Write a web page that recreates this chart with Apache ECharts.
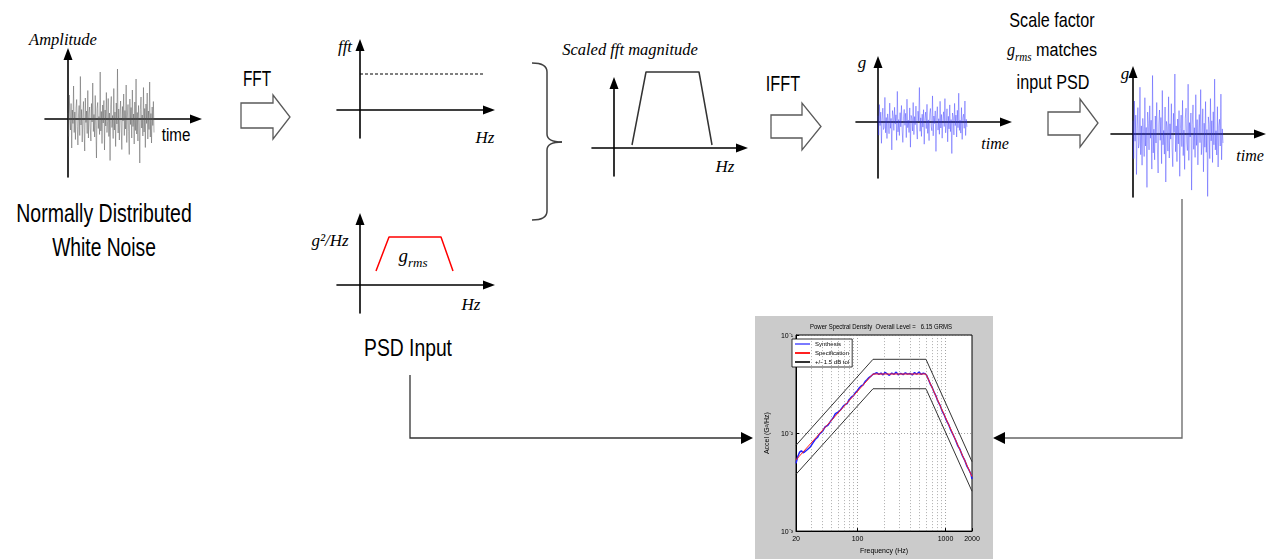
<!DOCTYPE html>
<html>
<head>
<meta charset="utf-8">
<title>Random vibration synthesis</title>
<script src="https://cdn.jsdelivr.net/npm/echarts@6/dist/echarts.min.js"></script>
<style>
  html, body { margin: 0; padding: 0; background: #fff; }
  #main { position: absolute; left: 0; top: 0; width: 1277px; height: 559px; }
  #psd { position: absolute; left: 755px; top: 316px; width: 238px; height: 243px; filter: blur(0.4px); }
</style>
</head>
<body>
<div id="main"></div>
<div id="psd"></div>
<script>
// ---------------- data ----------------
// normally distributed white noise (amplitude, arbitrary units)
const whiteNoise = [0.12,-0.35,0.48,0.05,-0.22,0.31,-0.58,0.18,-0.09,0.66,-0.27,0.14,-0.41,0.22,0.39,-0.15,-0.52,0.08,0.27,-0.33,
  0.85,-0.12,0.19,-0.46,0.03,0.35,-0.21,-0.64,0.42,-0.07,0.16,-0.29,0.57,-0.38,0.11,0.24,-0.18,-0.44,0.31,-0.06,
  0.72,-0.25,0.09,-0.36,0.47,-0.13,-0.78,0.21,0.33,-0.19,0.05,-0.31,0.94,-0.24,0.15,-0.49,0.28,-0.08,0.37,-0.62,
  0.18,-0.14,0.53,-0.27,-0.05,0.41,-0.35,0.12,-0.83,0.26,0.45,-0.17,0.07,-0.39,0.61,-0.22,0.14,-0.55,0.32,-0.1,
  1.0,-0.28,0.2,-0.42,0.09,0.36,-0.16,-0.61,0.25,-0.04,0.5,-0.33,0.17,-0.2,0.68,-0.47,0.06,0.29,-0.25,-0.71,
  0.4,-0.11,0.23,-0.38,0.58,-0.15,0.1,-0.5,0.34,-0.23,0.8,-0.3,0.13,-0.44,0.27,-0.06,-0.88,0.19,0.44,-0.18,
  0.08,-0.34,0.63,-0.26,0.21,-0.57,0.3,-0.09,0.52,-0.4,0.16,-0.21,0.74,-0.36,0.11,-0.48,0.24,-0.13,0.35,-0.27];

// flat FFT magnitude of the white noise
const fftLevel = [[0, 3.6], [12.5, 3.6]];

// PSD input shape (g^2/Hz) and scaled FFT magnitude shape
const psdInputShape = [[1.6, 1.4], [2.9, 4.8], [8.1, 4.8], [9.3, 1.4]];
const scaledFftShape = [[1.8, 0.3], [3.2, 7.6], [8.5, 7.6], [9.8, 0.3]];

// time history after IFFT (g)
const ifftNoise = [0.21,-0.44,0.58,-0.12,0.33,-0.71,0.09,0.46,-0.25,-0.18,0.82,-0.36,0.15,-0.55,0.27,0.04,-0.39,0.63,-0.21,0.12,
  -0.93,0.38,0.19,-0.28,0.49,-0.07,0.24,-0.61,1.02,-0.33,0.08,-0.45,0.31,-0.16,0.55,-0.26,-0.68,0.17,0.42,-0.11,
  0.29,-0.52,0.76,-0.19,0.06,-0.35,0.47,-0.84,0.22,0.13,-0.3,0.65,-0.42,0.18,-0.09,0.53,-0.24,-0.57,0.36,0.02,
  1.15,-0.31,0.14,-0.48,0.26,-0.17,0.41,-0.74,0.1,0.33,-0.22,0.59,-0.38,0.07,-0.62,0.28,0.45,-0.14,-0.29,0.87,
  -0.46,0.2,-0.05,0.37,-0.98,0.16,0.51,-0.27,0.11,-0.41,0.69,-0.2,0.25,-0.54,0.03,0.34,-0.15,0.78,-0.36,-0.1,
  0.44,-0.66,0.19,-0.23,0.57,-0.32,0.08,-1.05,0.3,0.17,-0.43,0.62,-0.12,0.23,-0.5,0.39,-0.19,0.96,-0.28,0.06,
  -0.37,0.48,-0.58,0.14,0.26,-0.21,0.7,-0.45,0.09,-0.16];

// time history after scaling to the input PSD (g)
const scaledNoise = [0.45,-0.82,1.1,-0.24,0.63,-1.35,0.18,0.88,-0.47,-0.31,1.56,-0.69,0.27,-1.04,0.52,0.09,-0.75,1.21,-0.4,0.22,
  -1.78,0.73,0.35,-0.53,0.94,-0.14,0.46,-1.17,1.95,-0.63,0.16,-0.86,0.6,-0.3,1.05,-0.5,-1.3,0.33,0.8,-0.21,
  0.55,-0.99,1.45,-0.36,0.12,-0.67,0.9,-1.6,0.42,0.25,-0.57,1.24,-0.8,0.34,-0.17,1.01,-0.46,-1.09,0.69,0.05,
  2.0,-0.59,0.27,-0.92,0.5,-0.33,0.78,-1.41,0.19,0.63,-0.42,1.12,-0.72,0.13,-1.18,0.53,0.86,-0.27,-0.55,1.66,
  -0.88,0.38,-0.1,0.7,-1.87,0.31,0.97,-0.51,0.21,-0.78,1.31,-0.38,0.48,-1.03,0.06,0.65,-0.29,1.48,-0.69,-0.19,
  0.84,-1.26,0.36,-0.44,1.08,-0.61,0.15,-2.08,0.57,0.32,-0.82,1.18,-0.23,0.44,-0.95,0.74,-0.36,1.83,-0.53,0.11,
  -0.7,0.91,-1.1,0.27,0.49,-0.4,1.33,-0.86,0.17,-0.3];

// PSD check plot: [frequency Hz, G^2/Hz]
const psdSpec = [[20, 0.00533], [150, 0.04], [600, 0.04], [2000, 0.0036]];
const psdTolUpper = [[20, 0.0075], [150, 0.0565], [600, 0.0565], [2000, 0.0051]];
const psdTolLower = [[20, 0.0038], [150, 0.0283], [600, 0.0283], [2000, 0.00255]];
const psdSynthesis = [[20,0.0049],[21,0.0058],[22,0.0064],[23,0.0066],[24,0.0063],[25,0.0064],[27,0.0068],[29,0.0072],
  [31,0.0079],[33,0.0086],[35,0.0090],[37,0.0098],[40,0.0104],[43,0.0116],[46,0.0120],[50,0.0134],[53,0.0143],
  [56,0.0158],[60,0.0163],[64,0.0172],[68,0.0185],[72,0.0196],[76,0.0199],[80,0.0218],[85,0.0232],[90,0.0241],
  [95,0.0259],[100,0.0272],[105,0.0290],[110,0.0302],[116,0.0310],[122,0.0335],[128,0.0349],[135,0.0368],
  [142,0.0380],[150,0.0398],[158,0.0405],[166,0.0412],[175,0.0396],[185,0.0408],[195,0.0392],[205,0.0415],
  [218,0.0401],[230,0.0388],[245,0.0409],[260,0.0397],[275,0.0418],[290,0.0393],[310,0.0406],[330,0.0395],
  [350,0.0412],[370,0.0399],[395,0.0405],[420,0.0392],[445,0.0414],[470,0.0398],[500,0.0420],[530,0.0396],
  [560,0.0409],[590,0.0401],[610,0.0388],[640,0.0352],[670,0.0318],[700,0.0296],[740,0.0262],[780,0.0238],
  [820,0.0210],[870,0.0191],[920,0.0166],[970,0.0152],[1030,0.0133],[1090,0.0121],[1150,0.0107],[1220,0.0096],
  [1300,0.0085],[1380,0.0074],[1460,0.0068],[1550,0.0059],[1650,0.0053],[1750,0.0046],[1850,0.0042],
  [1950,0.0038],[2000,0.0034]];
const psdGridFreqs = [30, 40, 50, 60, 70, 80, 90, 200, 300, 400, 500, 600, 700, 800, 900];
const psdYTickLabels = ['10\u207B\u00B3', '10\u207B\u00B2', '10\u207B\u00B9'];

// ---------------- layout of the sketch plots ----------------
// l/b: axis line starts, r/t: arrow tips, ox/oy: origin, kx/ky: pixels per data unit
const TIP = 6;
const sketchPlots = [
  { l: 45,   r: 202,  t: 48,  b: 177, ox: 68,   oy: 119, kx: 86 / (whiteNoise.length - 1), ky: 50 },
  { l: 337,  r: 495,  t: 39,  b: 138, ox: 360,  oy: 110, kx: 10, ky: 10 },
  { l: 337,  r: 495,  t: 213, b: 313, ox: 360,  oy: 285, kx: 10, ky: 10 },
  { l: 592,  r: 748,  t: 77,  b: 176, ox: 614,  oy: 148, kx: 10, ky: 10 },
  { l: 856,  r: 1012, t: 56,  b: 178, ox: 878,  oy: 122, kx: 89 / (ifftNoise.length - 1), ky: 30 },
  { l: 1111, r: 1266, t: 66,  b: 197, ox: 1133, oy: 134, kx: 90 / (scaledNoise.length - 1), ky: 30 }
];

const axisLine = {
  onZero: true,
  symbol: ['none', 'triangle'],
  symbolSize: [9, 12],
  lineStyle: { color: '#000', width: 1.6 }
};
const bareAxis = {
  type: 'value',
  axisLine: axisLine,
  axisTick: { show: false },
  axisLabel: { show: false },
  splitLine: { show: false }
};

const grids = [], xAxes = [], yAxes = [];
sketchPlots.forEach((p, i) => {
  grids.push({ left: p.l, top: p.t + TIP, width: p.r - TIP - p.l, height: p.b - p.t - TIP });
  xAxes.push(Object.assign({}, bareAxis, {
    gridIndex: i, min: (p.l - p.ox) / p.kx, max: (p.r - TIP - p.ox) / p.kx
  }));
  yAxes.push(Object.assign({}, bareAxis, {
    gridIndex: i, min: (p.oy - p.b) / p.ky, max: (p.oy - p.t - TIP) / p.ky
  }));
});

function traceSeries(idx, data, color, width, opacity, dashed) {
  return {
    type: 'line', xAxisIndex: idx, yAxisIndex: idx, data: data,
    symbol: 'none', silent: true, animation: false, clip: false,
    lineStyle: { color: color, width: width, opacity: opacity, type: dashed ? [3, 2] : 'solid' }
  };
}

const SANS = '"Liberation Sans", Arial, sans-serif';
const SERIF = '"Liberation Serif", "Times New Roman", serif';

function label(text, x, y, size, opts) {
  opts = opts || {};
  const style = {
    text: text,
    font: (opts.italic ? 'italic ' : '') + size + 'px ' + (opts.serif ? SERIF : SANS),
    fill: opts.color || '#000',
    align: opts.align || 'center',
    verticalAlign: 'middle'
  };
  if (opts.rich) style.rich = opts.rich;
  return { type: 'text', x: x, y: y, scaleX: opts.sx || 1, scaleY: opts.sy || 1, z: 10, style: style };
}

function hollowArrow(x0, x1, tip, yTop, yBot, headTop, headBot) {
  const yMid = (headTop + headBot) / 2;
  return {
    type: 'polygon', z: 5,
    shape: { points: [[x0, yTop], [x1, yTop], [x1, headTop], [tip, yMid], [x1, headBot], [x1, yBot], [x0, yBot]] },
    style: { fill: '#fff', stroke: '#5a5a5a', lineWidth: 1.3 }
  };
}

const braceStyle = { fill: 'none', stroke: '#404040', lineWidth: 1.5 };
function curve(x1, y1, cx, cy, x2, y2) {
  return { type: 'bezierCurve', z: 5, shape: { x1: x1, y1: y1, cpx1: cx, cpy1: cy, x2: x2, y2: y2 }, style: braceStyle };
}
function seg(x1, y1, x2, y2) {
  return { type: 'line', z: 5, shape: { x1: x1, y1: y1, x2: x2, y2: y2 }, style: braceStyle };
}

const grmsRich = {
  g: { font: 'italic 19px ' + SERIF, verticalAlign: 'bottom' },
  s: { font: 'italic 13px ' + SERIF, verticalAlign: 'bottom', padding: [0, 0, -4, 0] },
  t: { font: '19px ' + SANS, verticalAlign: 'bottom' }
};

const graphics = [
  // process arrows
  hollowArrow(241, 273, 290, 103, 128, 95, 139),
  hollowArrow(771, 802, 821, 115, 138, 103, 150),
  hollowArrow(1048, 1080, 1098, 112, 135, 99, 147),
  // brace joining the two spectra
  curve(532, 63, 547, 63, 547, 72),
  seg(547, 72, 547, 134),
  curve(547, 134, 547, 142, 562, 142),
  curve(562, 142, 547, 142, 547, 150),
  seg(547, 150, 547, 211),
  curve(547, 211, 547, 220, 532, 220),
  // feedback connectors into the PSD check plot
  { type: 'polyline', z: 5, shape: { points: [[410, 375], [410, 438], [742, 438]] }, style: { stroke: '#333', lineWidth: 1.3, fill: 'none' } },
  { type: 'polygon', z: 5, shape: { points: [[741, 432], [753, 438], [741, 444]] }, style: { fill: '#000' } },
  { type: 'polyline', z: 5, shape: { points: [[1182, 199], [1182, 438], [1004, 438]] }, style: { stroke: '#666', lineWidth: 1.3, fill: 'none' } },
  { type: 'polygon', z: 5, shape: { points: [[1005, 432], [993, 438], [1005, 444]] }, style: { fill: '#000' } },

  // texts
  label('Amplitude', 63, 39, 16.5, { italic: true, serif: true }),
  label('time', 176, 134, 19, { sx: 0.8 }),
  label('FFT', 257, 78, 22, { sx: 0.7 }),
  label('Normally Distributed', 104, 214, 25, { sx: 0.78 }),
  label('White Noise', 104, 248, 25, { sx: 0.77 }),
  label('fft', 345, 46, 17, { italic: true, serif: true }),
  label('Hz', 485, 137, 17, { italic: true, serif: true }),
  label('g\u00B2/Hz', 330, 240, 17, { italic: true, serif: true }),
  label('{g|g}{s|rms}', 413, 255, 17, { rich: grmsRich }),
  label('Hz', 471, 304, 17, { italic: true, serif: true }),
  label('Scaled fft magnitude', 630, 49, 16.5, { italic: true, serif: true }),
  label('Hz', 725, 166, 17, { italic: true, serif: true }),
  label('IFFT', 783, 83, 22, { sx: 0.74 }),
  label('g', 862, 62, 17, { italic: true, serif: true }),
  label('time', 995, 143, 16, { italic: true, serif: true }),
  label('Scale factor', 1052, 20, 19.5, { sx: 0.83 }),
  label('{g|g}{s|rms}{t| matches}', 1052, 50, 19.5, { rich: grmsRich, sx: 0.85 }),
  label('input PSD', 1053, 82, 19.5, { sx: 0.83 }),
  label('g', 1125, 73, 17, { italic: true, serif: true }),
  label('time', 1250, 155, 16, { italic: true, serif: true }),
  label('PSD Input', 408, 348, 23, { sx: 0.84 })
];

const main = echarts.init(document.getElementById('main'), null, { renderer: 'svg' });
main.setOption({
  animation: false,
  backgroundColor: '#fff',
  grid: grids,
  xAxis: xAxes,
  yAxis: yAxes,
  series: [
    traceSeries(0, whiteNoise.map((v, i) => [i, v]), '#505050', 1, 0.45),
    traceSeries(1, fftLevel, '#000', 1, 1, true),
    traceSeries(2, psdInputShape, '#ff0000', 1.5, 1),
    traceSeries(3, scaledFftShape, '#333', 1.5, 1),
    traceSeries(4, ifftNoise.map((v, i) => [i, v]), '#3030ff', 1, 0.4),
    traceSeries(5, scaledNoise.map((v, i) => [i, v]), '#3030ff', 1, 0.4)
  ],
  graphic: graphics
});

// ---------------- PSD check plot ----------------
const psd = echarts.init(document.getElementById('psd'), null, { renderer: 'svg' });
const tiny = { fontFamily: SANS, fontSize: 7, color: '#000' };
psd.setOption({
  animation: false,
  backgroundColor: '#cbcbcb',
  textStyle: { fontFamily: SANS },
  grid: { left: 32, top: 19, width: 185, height: 198, show: true, backgroundColor: '#fff', borderColor: '#000', borderWidth: 1 },
  graphic: [{
    type: 'text', x: 126, y: 10, scaleX: 0.8,
    style: { text: 'Power Spectral Density  Overall Level =   6.15 GRMS', font: '7.5px ' + SANS, fill: '#000', align: 'center', verticalAlign: 'middle' }
  }],
  legend: {
    data: ['Synthesis', 'Specification', '+/- 1.5 dB tol'],
    orient: 'vertical', left: 37, top: 23,
    backgroundColor: '#fff', borderColor: '#000', borderWidth: 0.8,
    padding: [2, 3, 2, 3], itemGap: 3, itemWidth: 15, itemHeight: 2, icon: 'rect',
    textStyle: { fontSize: 6, color: '#000', fontFamily: SANS }
  },
  xAxis: {
    type: 'log', logBase: 10, min: 20, max: 2000,
    name: 'Frequency (Hz)', nameLocation: 'middle', nameGap: 14, nameTextStyle: tiny,
    axisLine: { lineStyle: { color: '#000', width: 1 } },
    axisTick: { inside: true, length: 3, lineStyle: { color: '#000' } },
    axisLabel: Object.assign({ margin: 4, formatter: v => String(Math.round(v)) }, tiny),
    splitLine: { show: true, lineStyle: { color: '#666', width: 0.6, type: [1, 2] } }
  },
  yAxis: {
    type: 'log', logBase: 10, min: 0.001, max: 0.1,
    name: 'Accel (G\u00B2/Hz)', nameLocation: 'middle', nameGap: 20, nameTextStyle: tiny,
    axisLine: { lineStyle: { color: '#000', width: 1 } },
    axisTick: { inside: true, length: 3, lineStyle: { color: '#000' } },
    axisLabel: Object.assign({ margin: 3, formatter: v => psdYTickLabels[Math.round(Math.log10(v)) + 3] }, tiny),
    splitLine: { show: true, lineStyle: { color: '#666', width: 0.6, type: [1, 2] } }
  },
  series: [
    {
      type: 'line', data: [], silent: true, z: 1,
      markLine: {
        silent: true, symbol: 'none', label: { show: false }, animation: false,
        lineStyle: { color: '#777', width: 0.6, type: [1, 2] },
        data: psdGridFreqs.map(f => ({ xAxis: f }))
      }
    },
    { name: '+/- 1.5 dB tol', type: 'line', data: psdTolUpper, symbol: 'none', lineStyle: { color: '#333', width: 1 }, itemStyle: { color: '#333' } },
    { name: '+/- 1.5 dB tol', type: 'line', data: psdTolLower, symbol: 'none', lineStyle: { color: '#333', width: 1 }, itemStyle: { color: '#333' } },
    { name: 'Synthesis', type: 'line', data: psdSynthesis, symbol: 'none', lineStyle: { color: '#2020ff', width: 1.5 }, itemStyle: { color: '#7a7aff' } },
    { name: 'Specification', type: 'line', data: psdSpec, symbol: 'none', lineStyle: { color: '#ff2020', width: 1 }, itemStyle: { color: '#ff2020' } }
  ]
});
</script>
</body>
</html>
